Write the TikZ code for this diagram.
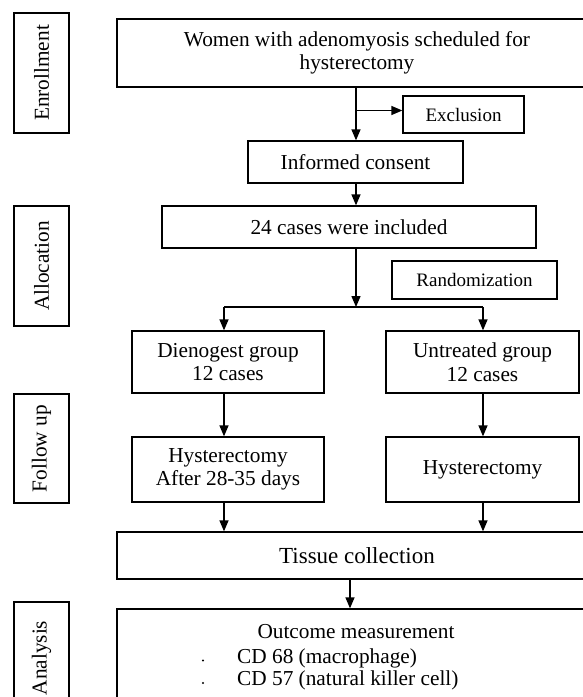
\documentclass[tikz,border=0pt]{standalone}
\usepackage{fontspec}
\setmainfont{Liberation Serif}
\usetikzlibrary{arrows.meta,calc}
\begin{document}
\begin{tikzpicture}[x=1pt,y=-1pt,
  box/.style={draw,line width=1.3pt,inner sep=0pt,align=center,font=\fontsize{21.3}{23.5}\selectfont},
  small/.style={font=\fontsize{19}{22}\selectfont},
  lbl/.style={box,rotate=90,minimum height=55pt},
  txt/.style={inner sep=0pt,font=\fontsize{21.3}{23.5}\selectfont},
  dot/.style={circle,fill,inner sep=0pt,minimum size=2.4pt},
  arr/.style={-{Triangle[width=9pt,length=11pt]},line width=1.3pt},
  ln/.style={line width=1.3pt}]
\useasboundingbox (0,0) rectangle (582,697);

% stage labels
\node[lbl,minimum width=120pt] (enr) at (41.5,73) {Enrollment};
\node[lbl,minimum width=120pt] (all) at (41.5,266) {Allocation};
\node[lbl,minimum width=109pt] (fol) at (41.5,448.5) {Follow up};
\node[lbl,minimum width=112pt] (ana) at (41.5,658) {Analysis};

% flow boxes
\node[box,minimum width=480pt,minimum height=68pt] (top) at (357,53) {Women with adenomyosis scheduled for\\hysterectomy};
\node[box,small,minimum width=121pt,minimum height=37pt] (exc) at (463.5,114.5) {Exclusion};
\node[box,minimum width=215pt,minimum height=42pt] (inf) at (355.5,162) {Informed consent};
\node[box,minimum width=374pt,minimum height=42pt] (c24) at (349,227) {24 cases were included};
\node[box,small,minimum width=165pt,minimum height=38pt] (ran) at (474.5,280) {Randomization};
\node[box,minimum width=192pt,minimum height=62pt] (die) at (228,362) {Dienogest group\\12 cases};
\node[box,minimum width=193pt,minimum height=62pt] (unt) at (482.5,362) {Untreated group\\12 cases};
\node[box,minimum width=192pt,minimum height=65pt] (hyl) at (228,469.5) {Hysterectomy\\After 28-35 days};
\node[box,minimum width=193pt,minimum height=65pt] (hyr) at (482.5,469.5) {Hysterectomy};
\node[box,font=\fontsize{23}{26}\selectfont,minimum width=480pt,minimum height=47pt] (tis) at (357,555.5) {Tissue collection};
\node[box,minimum width=480pt,minimum height=120pt] (out) at (357,669) {};

% outcome text
\node[txt,anchor=base] (om) at (356,638) {Outcome measurement};
\node[txt,anchor=base west] (cd68) at (237,663) {CD 68 (macrophage)};
\node[txt,anchor=base west] (cd57) at (237,685.5) {CD 57 (natural killer cell)};
\node[dot] (b1) at (203,660.5) {};
\node[dot] (b2) at (203,683) {};

% connectors
\coordinate (m) at (356,0);
\coordinate (br) at ($(exc.west)+(0,-4)$);
\draw[arr] (m |- top.south) -- (m |- inf.north);
\draw[arr] (m |- br) -- (br);
\draw[arr] (m |- inf.south) -- (m |- c24.north);
\coordinate (split) at (356,307);
\coordinate (sl) at (224,307);
\coordinate (sr) at (483,307);
\draw[arr] (m |- c24.south) -- (split);
\draw[ln] (sl) -- (sr);
\draw[arr] (sl) -- (sl |- die.north);
\draw[arr] (sr) -- (sr |- unt.north);
\draw[arr] (sl |- die.south) -- (sl |- hyl.north);
\draw[arr] (sr |- unt.south) -- (sr |- hyr.north);
\draw[arr] (sl |- hyl.south) -- (sl |- tis.north);
\draw[arr] (sr |- hyr.south) -- (sr |- tis.north);
\coordinate (t) at (350,0);
\draw[arr] (t |- tis.south) -- (t |- out.north);
\end{tikzpicture}
\end{document}
